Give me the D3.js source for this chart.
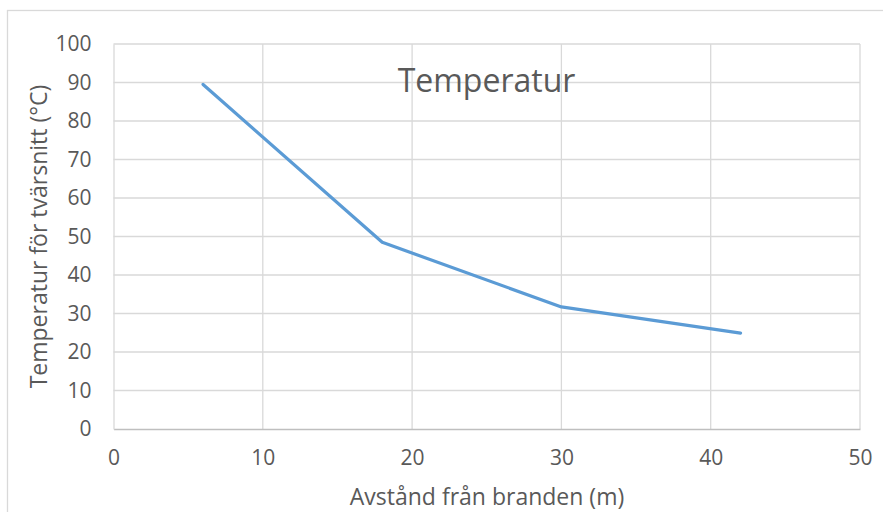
<!DOCTYPE html>
<html>
<head>
<meta charset="utf-8">
<script src="https://cdn.jsdelivr.net/npm/d3@7"></script>
<style>
  html, body { margin: 0; padding: 0; background: #fff; }
  svg { display: block; }
  text { font-family: "Open Sans", sans-serif; fill: #595959; }
</style>
</head>
<body>
<script>
// Temperature across the section versus distance from the fire
const distance = [6, 18, 30, 42];
const temperature = [89.5, 48.5, 31.7, 24.9];
const xTicks = [0, 10, 20, 30, 40, 50];
const yTicks = [0, 10, 20, 30, 40, 50, 60, 70, 80, 90, 100];
const chartTitle = "Temperatur";
const xTitle = "Avstånd från branden (m)";
const yTitle = "Temperatur för tvärsnitt (°C)";

const W = 883, H = 512;
const plot = { left: 113.5, right: 860, top: 44, bottom: 429 };
const FONT = "'Open Sans', sans-serif";

const svg = d3.select("body").append("svg").attr("width", W).attr("height", H);

// chart frame
svg.append("rect")
  .attr("x", 7.5).attr("y", 10.5)
  .attr("width", W + 10).attr("height", H + 10)
  .attr("fill", "#fff").attr("stroke", "#d9d9d9").attr("stroke-width", 1.3);

const x = d3.scaleLinear().domain([0, 50]).range([plot.left, plot.right]);
const y = d3.scaleLinear().domain([0, 100]).range([plot.bottom, plot.top]);

// gridlines
const grid = svg.append("g").attr("stroke", "#d9d9d9").attr("stroke-width", 1.3);
grid.selectAll("line.h").data(yTicks.filter(d => d > 0)).join("line")
  .attr("class", "h")
  .attr("x1", plot.left).attr("x2", plot.right)
  .attr("y1", d => y(d)).attr("y2", d => y(d));
grid.selectAll("line.v").data(xTicks.filter(d => d > 0)).join("line")
  .attr("class", "v")
  .attr("x1", d => x(d)).attr("x2", d => x(d))
  .attr("y1", plot.top).attr("y2", plot.bottom);

// axes
const xAxis = svg.append("g")
  .attr("transform", `translate(0,${plot.bottom})`)
  .call(d3.axisBottom(x).tickValues(xTicks).tickSize(0).tickPadding(21).tickFormat(d3.format("d")));
xAxis.select(".domain").attr("stroke", "#bfbfbf").attr("stroke-width", 1.3);
xAxis.selectAll("text").attr("font-size", 21).attr("fill", "#595959")
  .style("font-family", FONT);

const yAxis = svg.append("g")
  .attr("transform", `translate(${plot.left},0)`)
  .call(d3.axisLeft(y).tickValues(yTicks).tickSize(0).tickPadding(22).tickFormat(d3.format("d")));
yAxis.select(".domain").attr("stroke", "#d9d9d9").attr("stroke-width", 1.3);
yAxis.selectAll("text").attr("font-size", 21).attr("fill", "#595959")
  .style("font-family", FONT);

// series line
const line = d3.line().x((d, i) => x(distance[i])).y(d => y(d));
svg.append("path")
  .datum(temperature)
  .attr("d", line)
  .attr("fill", "none")
  .attr("stroke", "#5b9bd5")
  .attr("stroke-width", 3.2)
  .attr("stroke-linecap", "round")
  .attr("stroke-linejoin", "round");

// titles
svg.append("text")
  .attr("x", 486.5).attr("y", 92)
  .attr("text-anchor", "middle")
  .attr("font-size", 32)
  .text(chartTitle);

svg.append("text")
  .attr("x", 487).attr("y", 505)
  .attr("text-anchor", "middle")
  .attr("font-size", 23)
  .text(xTitle);

svg.append("text")
  .attr("transform", "translate(47,236.5) rotate(-90)")
  .attr("text-anchor", "middle")
  .attr("font-size", 23)
  .text(yTitle);
</script>
</body>
</html>
